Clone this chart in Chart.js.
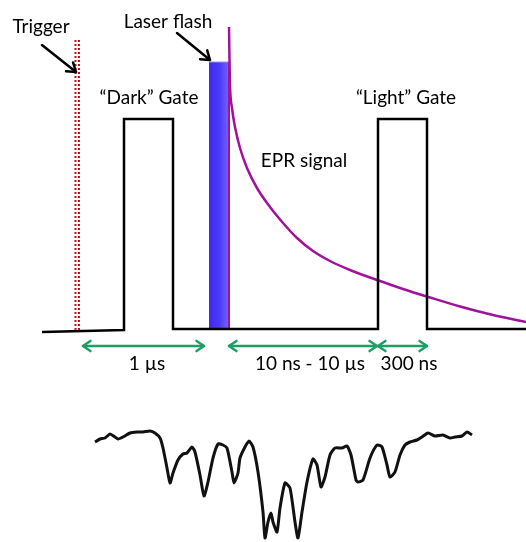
<!DOCTYPE html>
<html>
<head>
<meta charset="utf-8">
<script src="https://cdn.jsdelivr.net/npm/chart.js@4.4.0/dist/chart.umd.min.js"></script>
<style>
body { margin: 0; background: #fff; }
canvas { display: block; }
</style>
</head>
<body>
<canvas id="canvas" width="526" height="542"></canvas>
<script>
// the figure has no real axes, so everything lives in one figure unit space (x across, y down)

// gate pulse train: dark gate then light gate
var gateX = [42, 124, 124, 173, 173, 378, 378, 427, 427, 526];
var gateY = [332, 330, 119, 119, 329, 329, 119, 119, 329, 329];

// trigger (two dotted red lines)
var triggerX = [75.5, 79];
var triggerTop = 40;
var triggerBottom = 331;

// laser flash bar
var laserX = [209, 229];
var laserTop = 62;
var laserBottom = 329;

// EPR signal decay after the flash
var decayX = [229, 229.5, 230, 232, 235, 240, 247, 257, 270, 283, 297, 313, 330, 350, 370, 380, 403, 430, 460, 493, 526];
var decayY = [27, 60, 85, 108, 127, 148, 168, 188, 207, 223, 238, 251, 261, 270, 277.5, 281, 289, 297.5, 306.5, 315, 322];

// EPR spectrum trace at the bottom
var spectrumX = [95, 100, 105, 110, 115, 118, 123, 130, 137, 143, 150, 155, 160, 163, 167, 170, 173, 178, 183, 187, 192, 195, 200, 204, 208, 213, 218, 223, 227, 232, 234, 238, 240, 245, 249, 253, 258, 263, 265, 268, 271, 273, 277, 280, 285, 290, 295, 298, 302, 307, 313, 317, 321, 325, 330, 335, 342, 347, 351, 356, 358, 363, 370, 377, 382, 387, 390, 395, 400, 405, 410, 417, 422, 428, 435, 443, 450, 455, 462, 467, 472];
var spectrumY = [442, 439, 438, 434, 437, 439, 437, 433, 432, 432, 431, 433, 438, 448, 468, 483, 473, 460, 454, 453, 447, 452, 475, 496, 482, 458, 444, 445, 448, 472, 483, 473, 458, 447, 441, 447, 472, 512, 538, 522, 513, 522, 532, 508, 483, 488, 522, 538, 512, 482, 459, 465, 487, 477, 455, 448, 448, 446, 455, 480, 482, 480, 458, 445, 447, 465, 477, 472, 455, 445, 442, 440, 437, 433, 436, 435, 438, 437, 436, 432, 435];

// text labels and arrows
var labels = [
  { text: 'Trigger', x: 41, y: 33, color: '#000' },
  { text: 'Laser flash', x: 168, y: 28, color: '#000' },
  { text: '\u201cDark\u201d Gate', x: 149, y: 104, color: '#000' },
  { text: '\u201cLight\u201d Gate', x: 406, y: 104, color: '#000' },
  { text: 'EPR signal', x: 304, y: 167, color: '#000' },
  { text: '1 \u00b5s', x: 147, y: 370, color: '#000' },
  { text: '10 ns - 10 \u00b5s', x: 310, y: 370, color: '#000' },
  { text: '300 ns', x: 409, y: 370, color: '#000' }
];
var pointerArrows = [
  { x1: 42, y1: 45, x2: 76, y2: 72 },
  { x1: 177, y1: 33, x2: 210, y2: 60 }
];
var spanArrows = [
  { x1: 83, x2: 204, y: 346 },
  { x1: 229, x2: 377, y: 346 },
  { x1: 378, x2: 427, y: 346 }
];

function pts(xs, ys) {
  var out = [];
  for (var i = 0; i < xs.length; i++) out.push({ x: xs[i], y: ys[i] });
  return out;
}

function head(ctx, x1, y1, x2, y2, len) {
  var a = Math.atan2(y2 - y1, x2 - x1);
  ctx.beginPath();
  ctx.moveTo(x2 - len * Math.cos(a - 0.6), y2 - len * Math.sin(a - 0.6));
  ctx.lineTo(x2, y2);
  ctx.lineTo(x2 - len * Math.cos(a + 0.6), y2 - len * Math.sin(a + 0.6));
  ctx.stroke();
}

var annotate = {
  id: 'annotate',
  afterDatasetsDraw: function(chart) {
    var ctx = chart.ctx;
    var sx = chart.scales.x, sy = chart.scales.y;
    ctx.save();
    ctx.lineCap = 'round';
    ctx.lineJoin = 'round';
    // black pointer arrows
    ctx.strokeStyle = '#000';
    ctx.lineWidth = 2.5;
    pointerArrows.forEach(function(a) {
      var x1 = sx.getPixelForValue(a.x1), y1 = sy.getPixelForValue(a.y1);
      var x2 = sx.getPixelForValue(a.x2), y2 = sy.getPixelForValue(a.y2);
      ctx.beginPath();
      ctx.moveTo(x1, y1);
      ctx.lineTo(x2, y2);
      ctx.stroke();
      head(ctx, x1, y1, x2, y2, 10);
    });
    // green span arrows
    ctx.strokeStyle = '#1e9e64';
    ctx.lineWidth = 2.5;
    spanArrows.forEach(function(a) {
      var x1 = sx.getPixelForValue(a.x1), x2 = sx.getPixelForValue(a.x2);
      var y = sy.getPixelForValue(a.y);
      ctx.beginPath();
      ctx.moveTo(x1, y);
      ctx.lineTo(x2, y);
      ctx.stroke();
      head(ctx, x1, y, x2, y, 9);
      head(ctx, x2, y, x1, y, 9);
    });
    // labels
    ctx.font = '19px Lato';
    ctx.textAlign = 'center';
    ctx.textBaseline = 'alphabetic';
    labels.forEach(function(l) {
      ctx.fillStyle = l.color;
      ctx.fillText(l.text, sx.getPixelForValue(l.x), sy.getPixelForValue(l.y));
    });
    ctx.restore();
  }
};

function laserFill(context) {
  var chart = context.chart;
  if (!chart.chartArea) return '#4a35f5';
  var sx = chart.scales.x;
  var g = chart.ctx.createLinearGradient(sx.getPixelForValue(laserX[0]), 0, sx.getPixelForValue(laserX[1]), 0);
  g.addColorStop(0, '#4028f2');
  g.addColorStop(0.5, '#4a38f6');
  g.addColorStop(1, '#7464ff');
  return g;
}

var config = {
  type: 'line',
  data: {
    datasets: [{
      label: 'Laser flash',
      data: pts(laserX, [laserTop, laserTop]),
      fill: { value: laserBottom },
      backgroundColor: laserFill,
      borderColor: '#9a90ff',
      borderWidth: 1,
      pointRadius: 0,
      order: 3
    }, {
      label: 'Trigger a',
      data: pts([triggerX[0], triggerX[0]], [triggerTop, triggerBottom]),
      borderColor: '#c0101e',
      borderWidth: 2,
      borderDash: [2, 2],
      pointRadius: 0,
      fill: false
    }, {
      label: 'Trigger b',
      data: pts([triggerX[1], triggerX[1]], [triggerTop, triggerBottom]),
      borderColor: '#c0101e',
      borderWidth: 2,
      borderDash: [2, 2],
      pointRadius: 0,
      fill: false
    }, {
      label: 'Gates',
      data: pts(gateX, gateY),
      borderColor: '#000',
      borderWidth: 2.5,
      pointRadius: 0,
      tension: 0,
      fill: false
    }, {
      label: 'Flash edge',
      data: pts([laserX[1], laserX[1]], [laserTop, laserBottom]),
      borderColor: '#a0129a',
      borderWidth: 2,
      pointRadius: 0,
      fill: false
    }, {
      label: 'EPR signal',
      data: pts(decayX, decayY),
      borderColor: '#a0129a',
      borderWidth: 2.5,
      pointRadius: 0,
      cubicInterpolationMode: 'monotone',
      fill: false
    }, {
      label: 'Spectrum',
      data: pts(spectrumX, spectrumY),
      borderColor: '#111',
      borderWidth: 3,
      pointRadius: 0,
      tension: 0.2,
      borderJoinStyle: 'round',
      fill: false
    }]
  },
  options: {
    responsive: false,
    animation: false,
    layout: { padding: 0 },
    plugins: {
      legend: { display: false },
      tooltip: { enabled: false }
    },
    elements: { line: { borderCapStyle: 'butt', borderJoinStyle: 'miter' } },
    scales: {
      x: { type: 'linear', min: 0, max: 526, display: false },
      y: { type: 'linear', min: 0, max: 542, reverse: true, display: false }
    }
  },
  plugins: [annotate]
};

window.onload = function() {
  var ctx = document.getElementById('canvas').getContext('2d');
  window.myLine = new Chart(ctx, config);
};
</script>
</body>
</html>
